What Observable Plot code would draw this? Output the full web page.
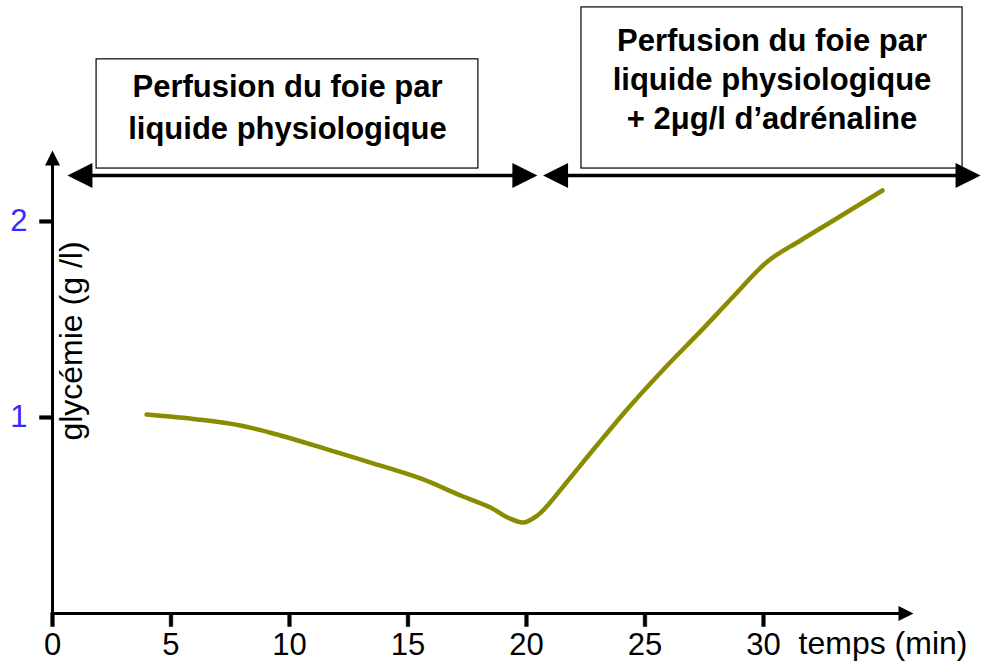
<!DOCTYPE html>
<html><head><meta charset="utf-8">
<script src="https://cdn.jsdelivr.net/npm/d3@7"></script>
<script src="https://cdn.jsdelivr.net/npm/@observablehq/plot@0.6"></script>
<style>
html,body{margin:0;padding:0;background:#fff}
#chart svg{display:block;background:#fff}
</style>
</head><body><div id="chart"></div>
<script>
// Data
const minutes  = [3.97, 6.12, 7.93, 9.62, 11.73, 13.42, 15.53, 17.22, 18.48, 19.20, 19.87, 20.46, 20.89, 21.86, 23.00, 24.39, 25.78, 27.34, 28.73, 30.17, 31.56, 32.95, 35.02];
const glycemie = [1.015, 0.990, 0.959, 0.908, 0.832, 0.770, 0.689, 0.602, 0.541, 0.490, 0.464, 0.500, 0.551, 0.694, 0.862, 1.061, 1.245, 1.439, 1.617, 1.796, 1.903, 2.005, 2.158];

const xTicks = [0, 5, 10, 15, 20, 25, 30];
const yTicks = [1, 2];
const xLabel = "temps (min)";
const yLabel = "glycémie (g /l)";

// Phases (annotation arrows and boxes), in minutes / g/l
const phaseStart = [0.63, 20.7];
const phaseEnd   = [20.46, 39.16];
const arrowLevel = 2.235;
const boxLeft    = [1.86, 22.32];
const boxRight   = [17.97, 38.40];
const boxTop     = [2.827, 3.092];
const boxBottom  = 2.270;
const phaseText  = [
  "Perfusion du foie par\nliquide physiologique",
  "Perfusion du foie par\nliquide physiologique\n+ 2μg/l d’adrénaline"
];
const textTop = [2.786, 3.008];

const xMax = 36.33, yMax = 2.362;

// arrow-head symbols (tip at the anchor point)
function head(dir) {
  return {
    draw(ctx, size) {
      const r = Math.sqrt(size / Math.PI);
      let pts = [[0, 0], [-2 * r, -r], [-2 * r, r]];
      if (dir === "left") pts = pts.map(([x, y]) => [-x, y]);
      if (dir === "up") pts = pts.map(([x, y]) => [y, -x]);
      ctx.moveTo(pts[0][0], pts[0][1]);
      ctx.lineTo(pts[1][0], pts[1][1]);
      ctx.lineTo(pts[2][0], pts[2][1]);
      ctx.closePath();
    }
  };
}
// tick-mark symbols drawn as thin bars hanging off the axis
function tickMark(dir) {
  return {
    draw(ctx, size) {
      const len = Math.sqrt(size / Math.PI), w = 1.8;
      let pts = [[-w, -1], [w, -1], [w, len], [-w, len]];
      if (dir === "left") pts = pts.map(([x, y]) => [-y, x]);
      ctx.moveTo(pts[0][0], pts[0][1]);
      for (let k = 1; k < pts.length; k++) ctx.lineTo(pts[k][0], pts[k][1]);
      ctx.closePath();
    }
  };
}

const idx = [0, 1];
const font = "Arial, 'Liberation Sans', Helvetica, sans-serif";

const chart = Plot.plot({
  width: 981,
  height: 662,
  marginLeft: 52,
  marginRight: 68,
  marginTop: 150,
  marginBottom: 49,
  style: {fontFamily: font, fontSize: "31px", color: "black", background: "white"},
  x: {domain: [0, xMax]},
  y: {domain: [0, yMax]},
  marks: [
    // phase boxes
    Plot.rect(idx, {x1: i => boxLeft[i], x2: i => boxRight[i], y1: boxBottom, y2: i => boxTop[i], fill: "white", stroke: "black", strokeWidth: 1.2}),
    Plot.text([0], {x: (boxLeft[0] + boxRight[0]) / 2, y: textTop[0], text: () => phaseText[0], lineAnchor: "top", lineHeight: 1.36, fontWeight: "bold", fontSize: 31, fill: "black"}),
    Plot.text([1], {x: (boxLeft[1] + boxRight[1]) / 2, y: textTop[1], text: () => phaseText[1], lineAnchor: "top", lineHeight: 1.25, fontWeight: "bold", fontSize: 31, fill: "black"}),
    // phase arrows
    Plot.link(idx, {x1: i => phaseStart[i] + 0.5, x2: i => phaseEnd[i] - 0.5, y1: arrowLevel, y2: arrowLevel, stroke: "black", strokeWidth: 3.5}),
    Plot.dot(idx, {x: i => phaseStart[i], y: arrowLevel, r: 12.5, symbol: head("left"), fill: "black", stroke: "none"}),
    Plot.dot(idx, {x: i => phaseEnd[i], y: arrowLevel, r: 12.5, symbol: head("right"), fill: "black", stroke: "none"}),
    // axes lines
    Plot.ruleY([0], {x1: 0, x2: xMax - 0.4, stroke: "black", strokeWidth: 3}),
    Plot.ruleX([0], {y1: 0, y2: yMax - 0.03, stroke: "black", strokeWidth: 3}),
    Plot.dot([0], {x: xMax, y: 0, r: 7.5, symbol: head("right"), fill: "black", stroke: "none"}),
    Plot.dot([0], {x: 0, y: yMax, r: 7.5, symbol: head("up"), fill: "black", stroke: "none"}),
    // tick marks
    Plot.dot(xTicks, {x: d => d, y: 0, r: 13, symbol: tickMark("down"), fill: "black", stroke: "black", strokeWidth: 0.5}),
    Plot.dot(yTicks, {x: 0, y: d => d, r: 13, symbol: tickMark("left"), fill: "black", stroke: "black", strokeWidth: 0.5}),
    // tick labels
    Plot.axisX({ticks: xTicks, tickSize: 0, tickPadding: 19, tickFormat: d => String(d), fontSize: 31, label: null, fill: "black"}),
    Plot.axisY({ticks: yTicks, tickSize: 0, tickPadding: 25, tickFormat: d => String(d), fontSize: 31, label: null, fill: "#3c28ff", color: "#3c28ff"}),
    Plot.text([xLabel], {x: 31.48, y: 0, dy: 30, text: d => d, textAnchor: "start", fontSize: 32, fill: "black"}),
    Plot.text([yLabel], {x: 0.81, y: 1.39, text: d => d, rotate: -90, fontSize: 32, fill: "black"}),
    // curve
    Plot.line({length: minutes.length}, {x: minutes, y: glycemie, stroke: "#8a8c00", strokeWidth: 4.5, curve: "catmull-rom"})
  ]
});
document.getElementById("chart").appendChild(chart);
</script>
</body></html>
